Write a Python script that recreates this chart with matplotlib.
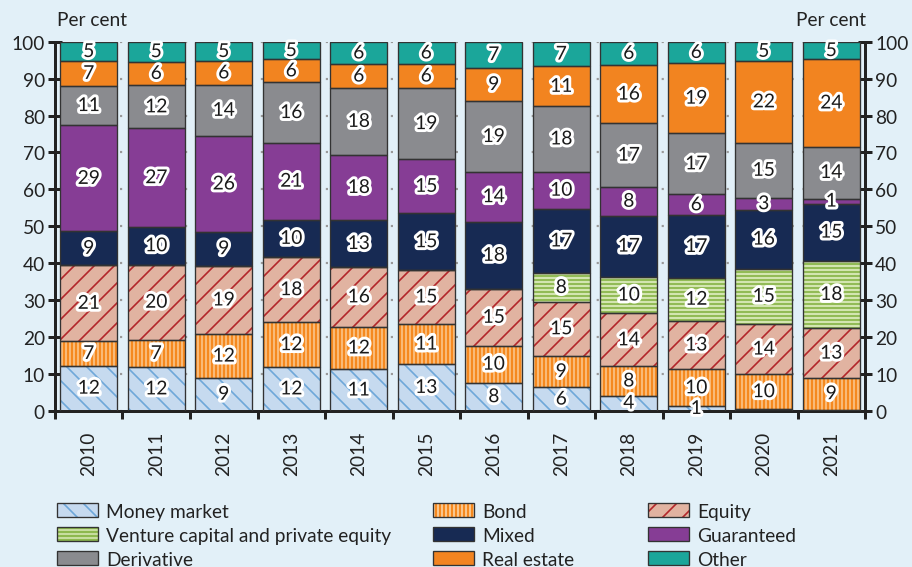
import matplotlib
matplotlib.use('Agg')
import matplotlib.pyplot as plt
import matplotlib.patheffects as pe
import numpy as np
from matplotlib.patches import Patch

plt.rcParams['font.family'] = ['Lato', 'DejaVu Sans']

years = ['2010', '2011', '2012', '2013', '2014', '2015',
         '2016', '2017', '2018', '2019', '2020', '2021']
money_market = [12.2, 11.8, 8.9, 11.8, 11.2, 12.6, 7.6, 6.3, 4.1, 1.2, 0.4, 0.3]
bond = [6.6, 7.4, 11.8, 12.2, 11.6, 10.9, 10.0, 8.6, 7.9, 10.0, 9.5, 8.6]
equity = [20.6, 20.4, 18.6, 17.6, 16.1, 14.6, 15.4, 14.6, 14.4, 13.2, 13.6, 13.4]
venture = [0, 0, 0, 0, 0, 0, 0, 7.8, 9.9, 11.6, 15.0, 18.4]
mixed = [9.2, 10.2, 9.2, 10.2, 12.8, 15.4, 18.2, 17.4, 16.6, 17.0, 16.0, 15.4]
guaranteed = [28.7, 26.7, 25.9, 20.8, 17.6, 14.6, 13.6, 10.1, 7.7, 5.6, 3.2, 1.4]
derivative = [10.8, 11.7, 14.0, 16.4, 18.2, 19.4, 19.0, 17.7, 17.3, 16.6, 14.9, 14.1]
real_estate = [6.6, 6.4, 6.3, 6.2, 6.4, 6.4, 9.2, 10.8, 15.8, 19.0, 22.2, 23.6]
other = [5.3, 5.4, 5.3, 4.8, 6.1, 6.1, 7.0, 6.7, 6.3, 5.8, 5.2, 4.8]

# name, values, fill, hatch, hatch colour, hatch width
series = [
    ('Money market', money_market, '#c6daef', '\\\\', '#6ea7d9', 1.0),
    ('Bond', bond, '#f5891f', '|||||', '#fcd3a3', 0.8),
    ('Equity', equity, '#e1b3a1', '//', '#b3262b', 1.0),
    ('Venture capital and private equity', venture, '#8db84e', '-----', '#d3e5b0', 1.3),
    ('Mixed', mixed, '#172a53', None, None, 0),
    ('Guaranteed', guaranteed, '#863d95', None, None, 0),
    ('Derivative', derivative, '#8a8b8f', None, None, 0),
    ('Real estate', real_estate, '#f28420', None, None, 0),
    ('Other', other, '#1ba69a', None, None, 0),
]

bg = '#e2f0f8'
edge = '#333333'
fs = 11.5

fig = plt.figure(figsize=(7.6, 4.7333), dpi=120, facecolor=bg)
ax = fig.add_axes([0.0603, 0.2752, 0.9485 - 0.0603, 0.9248 - 0.2752])
ax.set_facecolor(bg)

x = np.arange(len(years))
width = 0.84
bottom = np.zeros(len(years))
handles = {}
halo = [pe.withStroke(linewidth=3.5, foreground='white')]

for name, vals, face, hatch, hcol, hlw in series:
    vals = np.array(vals, dtype=float)
    if hatch:
        bars = ax.bar(x, vals, width, bottom=bottom, color=face, hatch=hatch,
                      edgecolor=hcol, linewidth=0, zorder=2)
        for p in bars:
            if hasattr(p, 'set_hatch_linewidth'):
                p.set_hatch_linewidth(hlw)
    else:
        ax.bar(x, vals, width, bottom=bottom, color=face, linewidth=0, zorder=2)
    ax.bar(x, vals, width, bottom=bottom, fill=False, edgecolor=edge,
           linewidth=0.8, zorder=3)
    for xi, b, v in zip(x, bottom, vals):
        if round(v) >= 1:
            ax.text(xi, b + v / 2, str(int(round(v))), ha='center', va='center',
                    fontsize=fs, color='#1a1a1a', zorder=5, path_effects=halo)
    fill = Patch(facecolor=face, hatch=hatch, edgecolor=hcol if hatch else face, linewidth=0)
    if hatch and hasattr(fill, 'set_hatch_linewidth'):
        fill.set_hatch_linewidth(hlw)
    outline = Patch(fill=False, edgecolor=edge, linewidth=0.8)
    handles[name] = (fill, outline)
    bottom += vals

ax.set_xlim(-0.5, 11.5)
ax.set_ylim(0, 100)
ax.set_yticks(range(0, 101, 10))
ax.yaxis.grid(True, linestyle=(0, (1, 4)), color='#9a9a9a', linewidth=1.3)
ax.set_axisbelow(True)
ax.tick_params(axis='y', direction='inout', length=8, width=1.8, left=True,
               right=True, labelleft=True, labelright=True, labelsize=fs,
               colors='#222222', pad=2)
ax.set_xticks(x)
ax.set_xticklabels(years, rotation=90, fontsize=fs, color='#222222')
ax.set_xticks(np.arange(-0.5, 12, 1), minor=True)
ax.tick_params(axis='x', which='major', length=0, pad=12)
ax.tick_params(axis='x', which='minor', length=5, width=1.8, direction='out', color='#222222')
for s in ['left', 'right', 'bottom']:
    ax.spines[s].set_linewidth(1.8)
    ax.spines[s].set_color('#222222')
ax.spines['top'].set_visible(False)

fig.text(57 / 912, 1 - 21 / 568, 'Per cent', ha='left', va='center', fontsize=fs, color='#222222')
fig.text(866 / 912, 1 - 21 / 568, 'Per cent', ha='right', va='center', fontsize=fs, color='#222222')

columns = [
    (57, ['Money market', 'Venture capital and private equity', 'Derivative']),
    (433, ['Bond', 'Mixed', 'Real estate']),
    (648, ['Equity', 'Guaranteed', 'Other']),
]
for px, names in columns:
    fig.legend([handles[n] for n in names], names, loc='upper left',
               bbox_to_anchor=(px / 912, 1 - 504 / 568), bbox_transform=fig.transFigure,
               frameon=False, borderpad=0, borderaxespad=0, fontsize=fs,
               handlelength=2.15, handleheight=0.75, handletextpad=0.4,
               labelspacing=0.36, labelcolor='#222222')

fig.savefig('out.png', dpi=120, facecolor=bg)
